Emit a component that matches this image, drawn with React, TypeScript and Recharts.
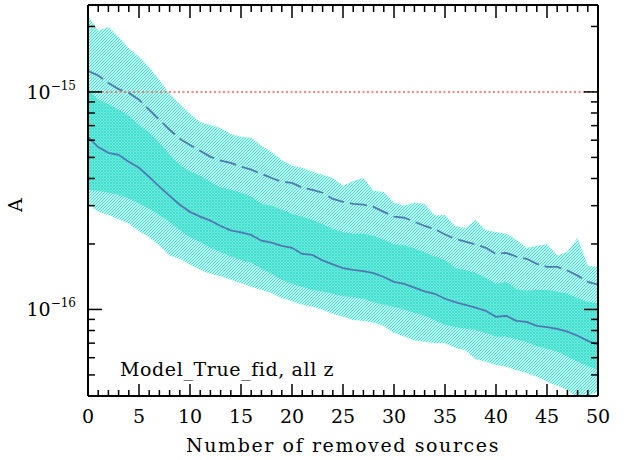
import { ComposedChart, Area, Line, XAxis, YAxis, ReferenceLine } from 'recharts';

// values in units of 1e-16
const UNIT = 1e-16;

const removed = [
  0, 1, 2, 3, 4, 5, 6, 7, 8, 9, 10, 11, 12, 13, 14, 15, 16, 17, 18, 19, 20, 21, 22, 23, 24, 25,
  26, 27, 28, 29, 30, 31, 32, 33, 34, 35, 36, 37, 38, 39, 40, 41, 42, 43, 44, 45, 46, 47, 48, 49, 50,
];

const median = [
  6.22, 5.58, 5.25, 5.14, 4.78, 4.48, 4.07, 3.67, 3.33, 3.03,
  2.81, 2.67, 2.56, 2.42, 2.31, 2.26, 2.2, 2.07, 2.03, 1.96,
  1.92, 1.8, 1.78, 1.68, 1.61, 1.55, 1.52, 1.5, 1.47, 1.41,
  1.34, 1.31, 1.26, 1.21, 1.18, 1.12, 1.08, 1.05, 1.02, 0.986,
  0.925, 0.935, 0.886, 0.877, 0.84, 0.83, 0.815, 0.79, 0.757, 0.717, 0.688,
];

const upperDashed = [
  12.5, 11.9, 11.0, 10.3, 9.9, 9.2, 8.28, 7.44, 6.7, 6.09,
  5.7, 5.36, 5.03, 4.83, 4.72, 4.53, 4.39, 4.2, 4.02, 3.86,
  3.82, 3.63, 3.55, 3.44, 3.22, 3.12, 3.06, 3.03, 2.96, 2.81,
  2.67, 2.64, 2.53, 2.42, 2.34, 2.21, 2.11, 2.05, 1.99, 1.92,
  1.8, 1.82, 1.75, 1.71, 1.62, 1.57, 1.57, 1.51, 1.43, 1.34, 1.3,
];

const innerHi = [
  10.3, 9.2, 8.8, 8.28, 7.77, 7.05, 6.5, 5.84, 5.14, 4.63,
  4.31, 4.12, 3.86, 3.63, 3.55, 3.44, 3.3, 3.06, 3.0, 2.87,
  2.75, 2.67, 2.58, 2.47, 2.34, 2.27, 2.23, 2.23, 2.18, 2.09,
  1.99, 1.97, 1.91, 1.83, 1.75, 1.69, 1.55, 1.52, 1.47, 1.4,
  1.31, 1.34, 1.24, 1.22, 1.23, 1.23, 1.21, 1.18, 1.13, 1.08, 1.07,
];

const innerLo = [
  3.55, 3.5, 3.45, 3.36, 3.24, 3.08, 2.9, 2.72, 2.53, 2.31,
  2.15, 2.04, 1.92, 1.84, 1.75, 1.69, 1.64, 1.54, 1.46, 1.37,
  1.31, 1.27, 1.23, 1.21, 1.18, 1.15, 1.14, 1.12, 1.08, 1.05,
  1.03, 0.996, 0.965, 0.935, 0.895, 0.85, 0.83, 0.815, 0.805, 0.78,
  0.75, 0.75, 0.73, 0.71, 0.68, 0.66, 0.64, 0.61, 0.575, 0.55, 0.525,
];

const outerHi = [
  22.4, 19.1, 19.9, 17.9, 15.9, 14.5, 13.0, 11.35, 9.8, 8.8,
  7.93, 7.28, 7.05, 6.82, 6.4, 6.22, 6.15, 5.65, 5.3, 4.87,
  4.58, 4.48, 4.3, 4.16, 4.02, 3.7, 3.9, 4.02, 3.51, 3.47,
  3.1, 3.0, 3.1, 3.06, 2.7, 2.72, 2.42, 2.37, 2.58, 2.31,
  2.27, 2.23, 2.09, 1.92, 1.96, 2.0, 1.77, 1.84, 2.13, 1.59, 1.57,
];

const outerLo = [
  3.06, 2.81, 2.72, 2.6, 2.48, 2.29, 2.15, 1.97, 1.77, 1.71,
  1.61, 1.52, 1.46, 1.42, 1.37, 1.32, 1.27, 1.23, 1.19, 1.13,
  1.09, 1.05, 1.03, 0.996, 0.955, 0.925, 0.895, 0.886, 0.868, 0.84,
  0.78, 0.75, 0.72, 0.71, 0.7, 0.7, 0.665, 0.65, 0.59, 0.575,
  0.556, 0.545, 0.525, 0.51, 0.49, 0.465, 0.446, 0.426, 0.392, 0.4, 0.42,
];

const A_LIMIT = 1e-15;
const yTicks = [
  5e-17, 6e-17, 7e-17, 8e-17, 9e-17, 1e-16,
  2e-16, 3e-16, 4e-16, 5e-16, 6e-16, 7e-16, 8e-16, 9e-16, 1e-15, 2e-15,
];
const Y_DOMAIN = [4.0e-17, 2.51e-15];

const FONT = 'DejaVu Serif';
const TEAL = '#40E0D0';
const BLUE = '#4f79b4';

const data = removed.map((n, i) => ({
  n,
  outer: [outerLo[i] * UNIT, outerHi[i] * UNIT],
  inner: [innerLo[i] * UNIT, innerHi[i] * UNIT],
  med: median[i] * UNIT,
  dash: upperDashed[i] * UNIT,
}));

const isDecade = (v: number) => {
  const l = Math.log10(v);
  return Math.abs(l - Math.round(l)) < 1e-6;
};

function BottomTick({ x, y, payload }: any) {
  const major = payload.value % 5 === 0;
  return (
    <g>
      <line x1={x} x2={x} y1={y} y2={y - (major ? 12 : 6)} stroke="#000" strokeWidth={1.5} />
      {major && (
        <text x={x} y={y + 27} textAnchor="middle" fontFamily={FONT} fontSize={19} fill="#000">
          {payload.value}
        </text>
      )}
    </g>
  );
}

function TopTick({ x, y, payload }: any) {
  const major = payload.value % 5 === 0;
  return <line x1={x} x2={x} y1={y} y2={y + (major ? 13 : 7)} stroke="#000" strokeWidth={1.5} />;
}

function LeftTick({ x, y, payload }: any) {
  const major = isDecade(payload.value);
  const exp = Math.round(Math.log10(payload.value));
  return (
    <g>
      <line x1={x} x2={x + (major ? 14 : 7)} y1={y} y2={y} stroke="#000" strokeWidth={1.5} />
      {major && (
        <text x={x - 12} y={y + 7} textAnchor="end" fontFamily={FONT} fontSize={19} fill="#000">
          10<tspan dy={-9} fontSize={12}>{'\u2212' + Math.abs(exp)}</tspan>
        </text>
      )}
    </g>
  );
}

function RightTick({ x, y, payload }: any) {
  const major = isDecade(payload.value);
  return <line x1={x} x2={x - (major ? 14 : 7)} y1={y} y2={y} stroke="#000" strokeWidth={1.5} />;
}

export default function App() {
  return (
    <div style={{ position: 'absolute', left: 0, top: 0, width: 625, height: 460, background: '#fff' }}>
      <ComposedChart width={625} height={460} data={data} margin={{ top: 0, right: 0, bottom: 0, left: 0 }}>
        <defs>
          <pattern id="hatchA" width="3" height="3" patternUnits="userSpaceOnUse">
            <rect width="3" height="3" fill={TEAL} fillOpacity={0.32} />
            <rect x="0" y="2" width="1" height="1" fill={TEAL} />
            <rect x="1" y="1" width="1" height="1" fill={TEAL} />
            <rect x="2" y="0" width="1" height="1" fill={TEAL} />
          </pattern>
          <pattern id="hatchB" width="3" height="3" patternUnits="userSpaceOnUse">
            <rect width="3" height="3" fill={TEAL} fillOpacity={0.6} />
            <rect x="0" y="0" width="1" height="1" fill={TEAL} />
            <rect x="1" y="1" width="1" height="1" fill={TEAL} />
            <rect x="2" y="2" width="1" height="1" fill={TEAL} />
          </pattern>
        </defs>
        <Area xAxisId="b" yAxisId="l" dataKey="outer" type="linear" stroke="none"
          fill="url(#hatchA)" fillOpacity={1} isAnimationActive={false} />
        <Area xAxisId="b" yAxisId="l" dataKey="inner" type="linear" stroke="none"
          fill="url(#hatchB)" fillOpacity={1} isAnimationActive={false} />
        <ReferenceLine xAxisId="b" yAxisId="l" y={A_LIMIT} stroke="#ff5a5a"
          strokeWidth={1.5} strokeDasharray="2 2.5" />
        <Line xAxisId="b" yAxisId="l" dataKey="dash" type="linear" stroke={BLUE} strokeWidth={1.8}
          strokeDasharray="17 6" dot={false} isAnimationActive={false} />
        <Line xAxisId="b" yAxisId="l" dataKey="med" type="linear" stroke={BLUE} strokeWidth={1.8}
          dot={false} isAnimationActive={false} />

        <XAxis xAxisId="b" dataKey="n" type="number" domain={[0, 50]} ticks={removed} interval={0}
          height={64} tickSize={0} tickMargin={0} tickLine={false} tick={<BottomTick />}
          axisLine={{ stroke: '#000', strokeWidth: 2 }} />
        <XAxis xAxisId="t" orientation="top" type="number" domain={[0, 50]} ticks={removed} interval={0}
          height={5} tickSize={0} tickMargin={0} tickLine={false} tick={<TopTick />}
          axisLine={{ stroke: '#000', strokeWidth: 2 }} />
        <YAxis yAxisId="l" type="number" scale="log" domain={Y_DOMAIN} allowDataOverflow ticks={yTicks}
          interval={0} width={88} tickSize={0} tickMargin={0} tickLine={false} tick={<LeftTick />}
          axisLine={{ stroke: '#000', strokeWidth: 2 }} />
        <YAxis yAxisId="r" orientation="right" type="number" scale="log" domain={Y_DOMAIN} allowDataOverflow
          ticks={yTicks} interval={0} width={27} tickSize={0} tickMargin={0} tickLine={false}
          tick={<RightTick />} axisLine={{ stroke: '#000', strokeWidth: 2 }} />

        <text x={343} y={452} textAnchor="middle" fontFamily={FONT} fontSize={19} letterSpacing={1.6} fill="#000">
          Number of removed sources
        </text>
        <text x={22} y={205} textAnchor="middle" fontFamily={FONT} fontSize={19} fill="#000"
          transform="rotate(-90 22 205)">
          A
        </text>
        <text x={120} y={376} fontFamily={FONT} fontSize={19} letterSpacing={0.6} fill="#000">
          Model_True_fid, all z
        </text>
      </ComposedChart>
    </div>
  );
}
